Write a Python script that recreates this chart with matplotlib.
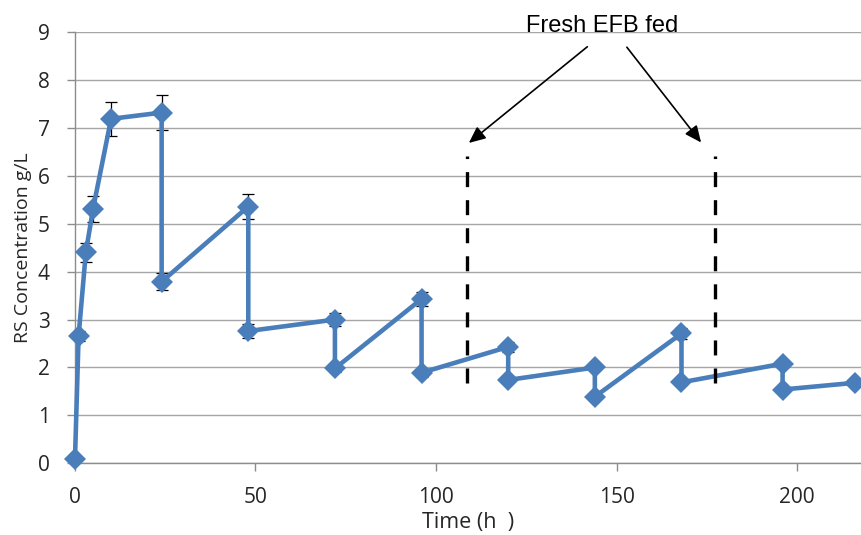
import matplotlib
matplotlib.use("Agg")
import matplotlib.pyplot as plt

# Data
time_h = [0, 1, 3, 5, 10, 24, 24, 48, 48, 72, 72, 96, 96, 120, 120, 144, 144, 168, 168, 196, 196, 216]
rs_conc = [0.1, 2.66, 4.4, 5.31, 7.19, 7.32, 3.79, 5.36, 2.76, 3.0, 1.98, 3.43, 1.89, 2.43, 1.74, 2.0, 1.39, 2.71, 1.69, 2.08, 1.54, 1.68]
rs_err = [0.0, 0.1, 0.2, 0.27, 0.36, 0.37, 0.18, 0.26, 0.15, 0.13, 0.08, 0.15, 0.08, 0.1, 0.05, 0.05, 0.05, 0.12, 0.05, 0.05, 0.05, 0.05]

feed_times = [108.5, 177.3]
feed_low = 1.68
feed_high = 6.42
annot_text = "Fresh EFB fed"
x_ticks = [0, 50, 100, 150, 200]
y_ticks = [0, 1, 2, 3, 4, 5, 6, 7, 8, 9]

plt.rcParams['lines.scale_dashes'] = False
fig = plt.figure(figsize=(8.62, 5.35), dpi=100)
ax = fig.add_axes([0.087, 0.134, 0.913, 0.806])

line_color = '#4a7ebb'
grid_color = '#a6a6a6'

ax.errorbar(time_h, rs_conc, yerr=rs_err, fmt='none', ecolor='black', elinewidth=0.9,
            capsize=4.3, capthick=0.9, zorder=2)
ax.plot(time_h, rs_conc, color=line_color, lw=3.3, marker='D', markersize=11,
        markeredgewidth=0, zorder=3, clip_on=False)

for ft in feed_times:
    ax.plot([ft, ft], [feed_low, feed_high], color='black', lw=2.4, dashes=(10.8, 9.4), zorder=4)

ax.set_xlim(0, 218)
ax.set_ylim(0, 9)
ax.set_xticks(x_ticks)
ax.set_yticks(y_ticks)
ax.yaxis.grid(True, color=grid_color, lw=1.0)
ax.set_axisbelow(True)

for s in ['top', 'right']:
    ax.spines[s].set_visible(False)
for s in ['left', 'bottom']:
    ax.spines[s].set_color('#8c8c8c')
    ax.spines[s].set_linewidth(1.0)

ax.tick_params(axis='both', direction='out', length=6, width=1.0, color='#8c8c8c',
               labelsize=15, labelcolor='#262626')
ax.tick_params(axis='y', pad=12)
ax.tick_params(axis='x', pad=11)
for lab in ax.get_xticklabels() + ax.get_yticklabels():
    lab.set_family('Open Sans')

ax.set_ylabel('RS Concentration g/L', fontsize=14, family='Open Sans', color='#262626', labelpad=4)
ax.set_xlabel('Time (h  )', fontsize=15.5, family='Open Sans', color='#262626', labelpad=3)

ax.text(145.9, 9.12, annot_text, ha='center', va='center', fontsize=17,
        family='Liberation Sans', color='black', clip_on=False)
ax.annotate('', xy=(108.5, 6.65), xytext=(142.5, 8.73),
            arrowprops=dict(arrowstyle='-|>,head_length=1.0,head_width=0.45', color='black', lw=1.2),
            annotation_clip=False)
ax.annotate('', xy=(173.9, 6.65), xytext=(152.4, 8.73),
            arrowprops=dict(arrowstyle='-|>,head_length=1.0,head_width=0.45', color='black', lw=1.2),
            annotation_clip=False)

fig.savefig('out.png', dpi=100)
